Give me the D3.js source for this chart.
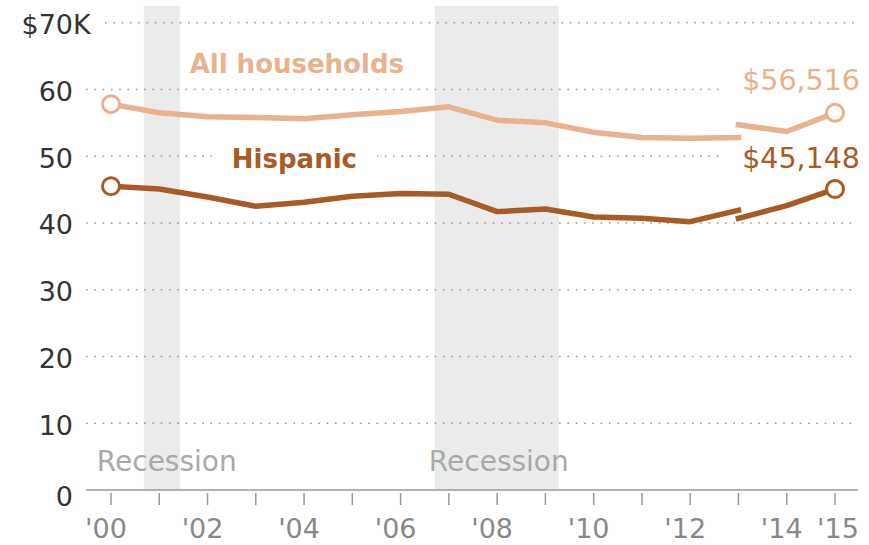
<!DOCTYPE html>
<html>
<head>
<meta charset="utf-8">
<script src="https://cdn.jsdelivr.net/npm/d3@7"></script>
<style>
  html, body { margin: 0; padding: 0; background: #fff; }
  svg text { font-family: "DejaVu Sans", sans-serif; }
</style>
</head>
<body>
<svg id="chart" width="869" height="545"></svg>
<script>
"use strict";

// data (thousands of 2015 dollars)
const years = [2000, 2001, 2002, 2003, 2004, 2005, 2006, 2007, 2008, 2009, 2010, 2011, 2012, 2013];
const allOld = [57.8, 56.5, 55.9, 55.8, 55.6, 56.2, 56.7, 57.4, 55.4, 55.0, 53.6, 52.8, 52.7, 52.8];
const hispOld = [45.5, 45.1, 43.9, 42.5, 43.1, 44.0, 44.4, 44.3, 41.7, 42.1, 40.9, 40.7, 40.2, 41.9];

// 2013 redesign onward
const yearsNew = [2013, 2014, 2015];
const allNew = [54.7, 53.7, 56.5];
const hispNew = [40.7, 42.6, 45.1];

const recessionStart = [2000.68, 2006.71];
const recessionEnd = [2001.43, 2009.28];

const yTicks = [0, 10, 20, 30, 40, 50, 60, 70];
const xTicks = d3.range(2000, 2016);
const xLabels = {2000: "'00", 2002: "'02", 2004: "'04", 2006: "'06", 2008: "'08",
                 2010: "'10", 2012: "'12", 2014: "'14", 2015: "'15"};

const allColor = "#e9b28e";
const hispColor = "#a85b25";

const svg = d3.select("#chart");

const x = d3.scaleLinear().domain([2000, 2015]).range([111, 835]);
const y = d3.scaleLinear().domain([0, 70]).range([490, 22.7]);

// recession bands
const rec = recessionStart.map((s, i) => ({s: s, e: recessionEnd[i]}));
svg.append("g").selectAll("rect").data(rec).join("rect")
    .attr("x", d => x(d.s))
    .attr("width", d => x(d.e) - x(d.s))
    .attr("y", 6)
    .attr("height", y(0) - 6)
    .attr("fill", "#eaeceb");

// y labels
const yLab = svg.append("g");
yTicks.forEach(t => {
    const lab = yLab.append("text")
        .attr("x", 73)
        .attr("y", y(t) + (t === 0 ? 6 : 2))
        .attr("text-anchor", "end")
        .attr("dominant-baseline", "central")
        .attr("font-size", 27)
        .attr("fill", "#333")
        .text(t);
    if (t === 70) {
        yLab.append("text")
            .attr("x", 73 - lab.node().getComputedTextLength())
            .attr("y", y(t) + 2)
            .attr("text-anchor", "end")
            .attr("dominant-baseline", "central")
            .attr("font-size", 27)
            .attr("fill", "#333")
            .text("$");
        yLab.append("text")
            .attr("x", 73)
            .attr("y", y(t) + 2)
            .attr("dominant-baseline", "central")
            .attr("font-size", 27)
            .attr("fill", "#333")
            .text("K");
    }
});

// dotted gridlines
svg.append("g").selectAll("line").data(yTicks.filter(t => t > 0)).join("line")
    .attr("x1", d => d === 70 ? 105 : 86)
    .attr("x2", 855)
    .attr("y1", d => y(d))
    .attr("y2", d => y(d))
    .attr("stroke", "#999")
    .attr("stroke-width", 1.6)
    .attr("stroke-dasharray", "1.6,6.7");

// x axis
svg.append("line")
    .attr("x1", 86).attr("x2", 858)
    .attr("y1", y(0)).attr("y2", y(0))
    .attr("stroke", "#999").attr("stroke-width", 1.5);

svg.append("g").selectAll("line").data(xTicks).join("line")
    .attr("x1", d => x(d)).attr("x2", d => x(d))
    .attr("y1", y(0) + 3).attr("y2", y(0) + 15)
    .attr("stroke", "#999").attr("stroke-width", 1.5);

svg.append("g").selectAll("text").data(xTicks.filter(d => xLabels[d])).join("text")
    .attr("x", d => x(d) - 5 + (d === 2015 ? 8 : 0))
    .attr("y", 538)
    .attr("text-anchor", "middle")
    .attr("font-size", 27)
    .attr("fill", "#888")
    .text(d => xLabels[d]);

// recession labels
svg.append("g").selectAll("text").data(rec).join("text")
    .attr("x", (d, i) => i === 0 ? x(d.s) - 47 : x(d.s) - 6)
    .attr("y", 471)
    .attr("font-size", 28)
    .attr("fill", "#a9a9a9")
    .text("Recession");

// labels; the ones sitting on a gridline get a white backing
const labelLayer = svg.append("g");
const addLabel = function(txt, px, py, anchor, color, weight, size, backed) {
    const g = labelLayer.append("g");
    const bg = g.append("rect").attr("fill", "#fff");
    const t = g.append("text")
        .attr("x", px).attr("y", py)
        .attr("text-anchor", anchor)
        .attr("font-size", size)
        .attr("font-weight", weight)
        .attr("fill", color)
        .text(txt);
    if (backed) {
        const b = t.node().getBBox();
        bg.attr("x", b.x - 20).attr("y", b.y)
          .attr("width", b.width + 40).attr("height", b.height);
    } else {
        bg.remove();
    }
};

// lines
const line = d3.line().x(d => x(d[0])).y(d => y(d[1]));
const drawSeries = function(xs, vals, color) {
    svg.append("path")
        .datum(xs.map((yr, i) => [yr, vals[i]]))
        .attr("d", line)
        .attr("fill", "none")
        .attr("stroke", color)
        .attr("stroke-width", 5.5)
        .attr("stroke-linejoin", "round")
        .attr("stroke-linecap", "square");
};
drawSeries(years, allOld, allColor);
drawSeries(yearsNew, allNew, allColor);
drawSeries(years, hispOld, hispColor);
drawSeries(yearsNew, hispNew, hispColor);

const ends = [
    [years[0], allOld[0], allColor],
    [yearsNew[2], allNew[2], allColor],
    [years[0], hispOld[0], hispColor],
    [yearsNew[2], hispNew[2], hispColor]
];
svg.append("g").selectAll("circle").data(ends).join("circle")
    .attr("cx", d => x(d[0]))
    .attr("cy", d => y(d[1]))
    .attr("r", 8.5)
    .attr("fill", "#fff")
    .attr("stroke", d => d[2])
    .attr("stroke-width", 3);

addLabel("All households", x(2003.85), 73, "middle", allColor, "bold", 26, false);
addLabel("Hispanic", x(2003.8), 168, "middle", hispColor, "bold", 26, true);
addLabel("$" + d3.format(",")(Math.round(allNew[2] * 1000 + 16)), 860, 90, "end", allColor, "normal", 28.5, true);
addLabel("$" + d3.format(",")(Math.round(hispNew[2] * 1000 + 48)), 860, 168, "end", hispColor, "normal", 28.5, true);
</script>
</body>
</html>
